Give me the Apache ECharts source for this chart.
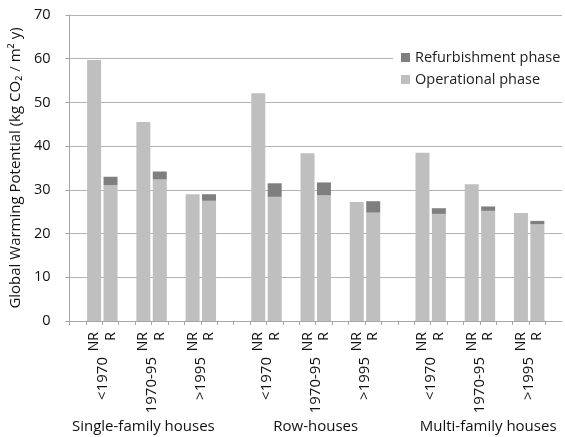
<!DOCTYPE html>
<html><head><meta charset="utf-8">
<script src="https://cdn.jsdelivr.net/npm/echarts@6/dist/echarts.min.js"></script>
<style>html,body{margin:0;padding:0;background:#fff;}#c{width:565px;height:437px;}</style>
</head><body><div id="c"></div>
<script>
var categories = ['', 'NR','R','', 'NR','R','', 'NR','R','', '', 'NR','R','', 'NR','R','', 'NR','R','', '', 'NR','R','', 'NR','R','', 'NR','R',''];
var operational = [null,59.7,31.1,null,45.5,32.4,null,29.0,27.5,null,null,52.1,28.4,null,38.4,28.8,null,27.2,24.8,null,null,38.5,24.5,null,31.3,25.2,null,24.7,22.1,null];
var refurbishment = [null,null,1.9,null,null,1.8,null,null,1.5,null,null,null,3.1,null,null,2.9,null,null,2.6,null,null,null,1.3,null,null,1.0,null,null,0.8,null];
var ageLabels = ['<1970','1970-95','>1995','<1970','1970-95','>1995','<1970','1970-95','>1995'];
var ageBoundaries = [2,5,8,12,15,18,22,25,28];
var groupLabels = ['Single-family houses','Row-houses','Multi-family houses'];
var groupCenters = [4.5,15,25.5];
var seriesNames = ['Operational phase','Refurbishment phase'];

var FONT = 'Open Sans';
var ageAxisData = [];
for (var i = 0; i <= 30; i++) { var k = ageBoundaries.indexOf(i); ageAxisData.push(k >= 0 ? ageLabels[k] : ''); }
var groupAxisData = [];
for (var j = 0; j <= 60; j++) { var g = groupCenters.indexOf(j / 2); groupAxisData.push(g >= 0 ? groupLabels[g] : ''); }

var chart = echarts.init(document.getElementById('c'), null, {renderer:'canvas'});
chart.setOption({
  animation: false,
  textStyle: {fontFamily: FONT},
  grid: {left: 67, top: 15, width: 501, height: 306, containLabel: false},
  legend: {
    data: ['Refurbishment phase','Operational phase'],
    orient: 'vertical', left: 393, top: 42,
    icon: 'rect', itemWidth: 9, itemHeight: 9, itemGap: 7,
    backgroundColor: '#fff', padding: [8, 20, 8, 8],
    textStyle: {fontFamily: FONT, fontSize: 14.5, color: '#222'}
  },
  xAxis: [
    {type: 'category', data: categories, position: 'bottom',
     axisLine: {lineStyle: {color: '#a6a6a6'}},
     axisTick: {show: true, interval: 0, length: 4, lineStyle: {color: '#a6a6a6'}},
     axisLabel: {interval: 0, rotate: 90, margin: 11, fontSize: 14, color: '#111', fontFamily: FONT}},
    {type: 'category', data: ageAxisData, boundaryGap: false, position: 'bottom',
     axisLine: {show: false}, axisTick: {show: false},
     axisLabel: {interval: 0, rotate: 90, margin: 36, fontSize: 15, color: '#111', fontFamily: FONT}},
    {type: 'category', data: groupAxisData, boundaryGap: false, position: 'bottom',
     axisLine: {show: false}, axisTick: {show: false},
     axisLabel: {interval: 0, margin: 98, fontSize: 15, color: '#111', fontFamily: FONT}}
  ],
  yAxis: {
    type: 'value', min: 0, max: 70, interval: 10,
    name: 'Global Warming Potential (kg CO\u2082 / m\u00b2 y)', nameLocation: 'middle', nameGap: 38,
    nameTextStyle: {fontSize: 15, color: '#111', fontFamily: FONT},
    axisLine: {show: true, lineStyle: {color: '#a6a6a6'}},
    axisTick: {show: true, length: 4, lineStyle: {color: '#a6a6a6'}},
    axisLabel: {fontSize: 14.5, color: '#111', margin: 19, fontFamily: FONT},
    splitLine: {lineStyle: {color: '#b3b3b3'}}
  },
  series: [
    {name: seriesNames[0], type: 'bar', stack: 'total', data: operational, barWidth: 14,
     itemStyle: {color: '#bfbfbf'}},
    {name: seriesNames[1], type: 'bar', stack: 'total', data: refurbishment, barWidth: 14,
     itemStyle: {color: '#7f7f7f'}}
  ]
});
</script></body></html>
